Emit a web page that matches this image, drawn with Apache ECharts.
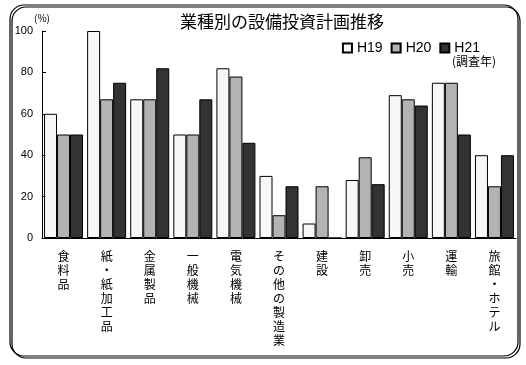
<!DOCTYPE html>
<html>
<head>
<meta charset="utf-8">
<script src="https://cdn.jsdelivr.net/npm/echarts@6/dist/echarts.min.js"></script>
<style>
  html, body { margin: 0; padding: 0; background: #fff; }
  #chart { width: 526px; height: 365px; }
</style>
</head>
<body>
<div id="chart"></div>
<script>
// 業種 (categories)
var categories = ['食料品', '紙・紙加工品', '金属製品', '一般機械', '電気機械', 'その他の製造業', '建設', '卸売', '小売', '運輸', '旅館・ホテル'];
// 調査年ごとの値 (%)
var h19 = [60, 100, 67, 50, 82, 30, 7, 28, 69, 75, 40];
var h20 = [50, 67, 67, 50, 78, 11, 25, 39, 67, 75, 25];
var h21 = [50, 75, 82, 67, 46, 25, 0, 26, 64, 50, 40];
var seriesNames = ['H19', 'H20', 'H21'];
var yTicks = [0, 20, 40, 60, 80, 100];

var font = '"Noto Sans CJK JP", "Noto Sans", sans-serif';
var chart = echarts.init(document.getElementById('chart'));

function bar(name, data, color) {
    return {
        name: name,
        type: 'bar',
        data: data,
        barWidth: 13,
        barGap: '0%',
        itemStyle: { color: color, borderColor: '#000', borderWidth: 1 }
    };
}

var option = {
    animation: false,
    textStyle: { fontFamily: font, color: '#000' },
    title: {
        text: '業種別の設備投資計画推移',
        left: 175,
        top: 8,
        textStyle: { fontSize: 17, fontWeight: 'normal', color: '#000', fontFamily: font }
    },
    legend: {
        data: seriesNames,
        right: 41,
        top: 36,
        icon: 'rect',
        itemWidth: 9,
        itemHeight: 9,
        itemGap: 8,
        textStyle: { fontSize: 14, color: '#000', fontFamily: 'Liberation Sans, sans-serif' }
    },
    grid: { left: 42, right: 10, top: 31, bottom: 127, containLabel: false },
    xAxis: {
        type: 'category',
        data: categories,
        axisLine: { lineStyle: { color: '#000', width: 1 } },
        axisTick: { inside: true, length: 3, lineStyle: { color: '#000' } },
        axisLabel: {
            interval: 0,
            rotate: 0,
            hideOverlap: false,
            margin: 11,
            fontSize: 12,
            lineHeight: 14,
            color: '#000',
            formatter: function (v) { return v.split('').join('\n'); }
        }
    },
    yAxis: {
        type: 'value',
        min: 0,
        max: 100,
        interval: 20,
        splitLine: { show: false },
        axisLine: { show: true, lineStyle: { color: '#000', width: 1 } },
        axisTick: { show: true, inside: true, length: 4, lineStyle: { color: '#000' } },
        axisLabel: {
            fontSize: 11,
            color: '#000',
            margin: 9,
            fontFamily: 'Liberation Sans, sans-serif',
            formatter: function (v) { return yTicks.indexOf(v) >= 0 ? String(v) : ''; }
        }
    },
    graphic: [
        {
            type: 'rect',
            shape: { x: 10, y: 5, width: 508, height: 351, r: 14 },
            style: {
                fill: 'none',
                stroke: '#000',
                lineWidth: 1.2,
                shadowColor: '#000',
                shadowBlur: 0,
                shadowOffsetX: 2,
                shadowOffsetY: 2
            },
            z: -1
        },
        {
            type: 'text',
            left: 34,
            top: 13,
            style: { text: '(%)', fontSize: 10, fill: '#000', fontFamily: font }
        },
        {
            type: 'text',
            left: 452,
            top: 55,
            style: { text: '(調査年)', fontSize: 12, fill: '#000', fontFamily: font }
        }
    ],
    series: [
        bar('H19', h19, '#f7f7f7'),
        bar('H20', h20, '#b3b3b3'),
        bar('H21', h21, '#333333')
    ]
};
chart.setOption(option);
</script>
</body>
</html>
